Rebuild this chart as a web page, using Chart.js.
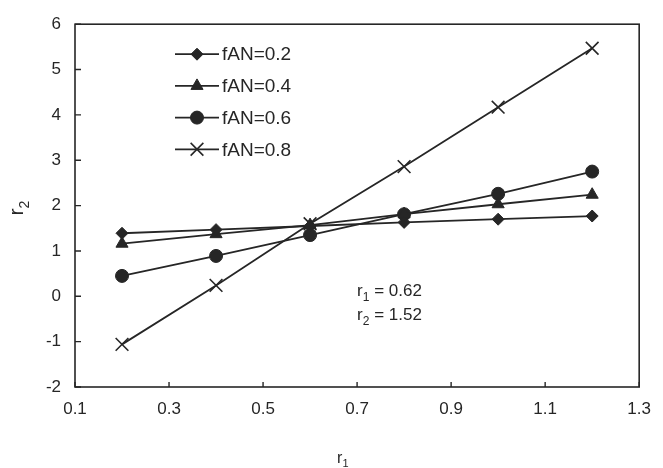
<!DOCTYPE html>
<html>
<head>
<meta charset="utf-8">
<script src="https://cdn.jsdelivr.net/npm/chart.js@4.4.1/dist/chart.umd.min.js"></script>
<style>
    html, body { margin: 0; padding: 0; background: #ffffff; }
    #chart { display: block; }
</style>
</head>
<body>
<canvas id="chart" width="663" height="468"></canvas>
<script>
const xValues = [0.2, 0.4, 0.6, 0.8, 1.0, 1.2];

const fan02 = [1.39, 1.47, 1.55, 1.63, 1.70, 1.77];
const fan04 = [1.16, 1.37, 1.57, 1.81, 2.03, 2.24];
const fan06 = [0.45, 0.89, 1.35, 1.81, 2.26, 2.75];
const fan08 = [-1.06, 0.24, 1.60, 2.86, 4.17, 5.47];

const seriesLabels = ["fAN=0.2", "fAN=0.4", "fAN=0.6", "fAN=0.8"];
const resultLines = [["r", "1", " = 0.62"], ["r", "2", " = 1.52"]];

const INK = "#262626";
const FONT = "'Liberation Sans', Arial, sans-serif";

function toPoints(values) {
    return values.map((v, i) => ({ x: xValues[i], y: v }));
}

const markers = [
    { pointStyle: "rectRot", radius: 6, rotation: 0, borderWidth: 1 },
    { pointStyle: "triangle", radius: 7, rotation: 0, borderWidth: 1 },
    { pointStyle: "circle", radius: 6.5, rotation: 0, borderWidth: 1 },
    { pointStyle: "crossRot", radius: 9, rotation: 0, borderWidth: 1.6 }
];

function makeDataset(label, values, m) {
    return {
        label: label,
        data: toPoints(values),
        borderColor: INK,
        backgroundColor: INK,
        borderWidth: 1.8,
        tension: 0,
        pointStyle: m.pointStyle,
        pointRadius: m.radius,
        pointBorderWidth: m.borderWidth,
        pointBackgroundColor: INK,
        pointBorderColor: INK
    };
}

// "r" with a subscript, drawn as real text
function drawSub(ctx, x, y, base, sub, rest, size) {
    ctx.font = `${size}px ${FONT}`;
    ctx.fillText(base, x, y);
    let w = ctx.measureText(base).width;
    ctx.font = `${Math.round(size * 0.68)}px ${FONT}`;
    ctx.fillText(sub, x + w, y + size * 0.28);
    w += ctx.measureText(sub).width;
    if (rest) {
        ctx.font = `${size}px ${FONT}`;
        ctx.fillText(rest, x + w, y);
        w += ctx.measureText(rest).width;
    }
    return w;
}

const framePlugin = {
    id: "frame",
    afterDraw(chart) {
        const ctx = chart.ctx;
        const a = chart.chartArea;
        const xs = chart.scales.x;
        const ys = chart.scales.y;
        ctx.save();
        ctx.strokeStyle = INK;
        ctx.lineWidth = 1.6;
        ctx.strokeRect(a.left, a.top, a.right - a.left, a.bottom - a.top);

        // inward tick marks
        ctx.lineWidth = 1.4;
        ctx.beginPath();
        xs.ticks.forEach(t => {
            const px = xs.getPixelForValue(t.value);
            ctx.moveTo(px, a.bottom);
            ctx.lineTo(px, a.bottom - 5);
        });
        ys.ticks.forEach(t => {
            const py = ys.getPixelForValue(t.value);
            ctx.moveTo(a.left, py);
            ctx.lineTo(a.left + 6, py);
        });
        ctx.stroke();

        // legend inside plot
        ctx.fillStyle = INK;
        ctx.textBaseline = "middle";
        chart.data.datasets.forEach((ds, i) => {
            const y = a.top + 30 + i * 31.7;
            const x0 = a.left + 100;
            ctx.strokeStyle = INK;
            ctx.lineWidth = 1.8;
            ctx.beginPath();
            ctx.moveTo(x0, y);
            ctx.lineTo(x0 + 44, y);
            ctx.stroke();
            ctx.fillStyle = INK;
            ctx.lineWidth = markers[i].borderWidth;
            Chart.helpers.drawPoint(ctx, markers[i], x0 + 22, y);
            ctx.font = `19px ${FONT}`;
            ctx.fillText(ds.label, x0 + 47, y + 1);
        });

        // fitted ratios
        ctx.textBaseline = "alphabetic";
        resultLines.forEach((r, i) => {
            const x = xs.getPixelForValue(0.7);
            const y = ys.getPixelForValue(0) + i * 23.5;
            drawSub(ctx, x, y, r[0], r[1], r[2], 17);
        });

        // axis titles
        drawSub(ctx, xs.getPixelForValue(0.7) - 20, 463, "r", "1", "", 16);
        ctx.translate(23, (a.top + a.bottom) / 2 + 10);
        ctx.rotate(-Math.PI / 2);
        drawSub(ctx, 0, 0, "r", "2", "", 21);
        ctx.restore();
    }
};

new Chart(document.getElementById("chart"), {
    type: "line",
    data: {
        datasets: [
            makeDataset(seriesLabels[0], fan02, markers[0]),
            makeDataset(seriesLabels[1], fan04, markers[1]),
            makeDataset(seriesLabels[2], fan06, markers[2]),
            makeDataset(seriesLabels[3], fan08, markers[3])
        ]
    },
    options: {
        responsive: false,
        animation: false,
        layout: {
            padding: { top: 22, right: 14, left: 0, bottom: 0 }
        },
        scales: {
            x: {
                type: "linear",
                min: 0.1,
                max: 1.3,
                grid: { display: false, drawTicks: false },
                border: { display: false },
                ticks: {
                    stepSize: 0.2,
                    padding: 12,
                    color: INK,
                    font: { family: FONT, size: 17 },
                    callback: v => v.toFixed(1)
                },
                afterFit(scale) { scale.height = 81; }
            },
            y: {
                min: -2,
                max: 6,
                grid: { display: false, drawTicks: false },
                border: { display: false },
                ticks: {
                    stepSize: 1,
                    padding: 14,
                    color: INK,
                    font: { family: FONT, size: 17 }
                },
                afterFit(scale) { scale.width = 75; }
            }
        },
        plugins: {
            legend: { display: false },
            tooltip: { enabled: false }
        }
    },
    plugins: [framePlugin]
});
</script>
</body>
</html>
